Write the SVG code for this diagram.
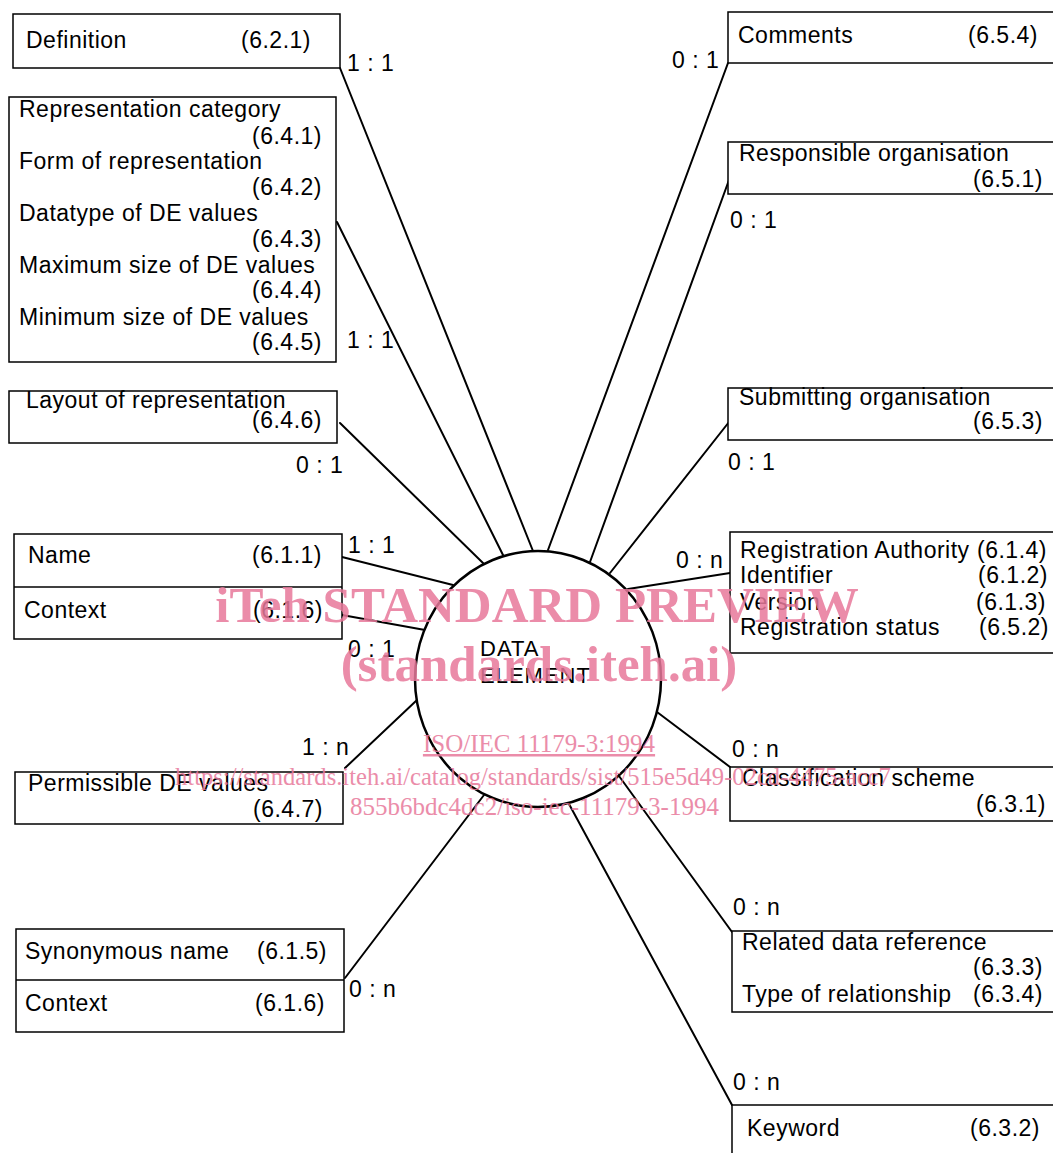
<svg xmlns="http://www.w3.org/2000/svg" width="1053" height="1153" viewBox="0 0 1053 1153">
<style>
.box{fill:#fff;stroke:#000;stroke-width:1.5}
.div{stroke:#000;stroke-width:1.5}
.t{font-family:"Liberation Sans",Arial,sans-serif;font-size:23px;fill:#000;letter-spacing:0.5px}
.r{text-anchor:end}
.de{font-size:22px;letter-spacing:1px}
.c{stroke:#000;stroke-width:2;fill:none;stroke-linecap:round}
.wm{font-family:"Liberation Serif","Times New Roman",serif;fill:#e8799b;opacity:0.85}
.wb{font-weight:bold;font-size:51px;text-anchor:middle}
.ws{font-size:25px}
</style>
<rect width="1053" height="1153" fill="#fff"/>
<g id="connectors">
<line class="c" x1="340" y1="68" x2="533" y2="551"/>
<line class="c" x1="337" y1="222" x2="503" y2="555"/>
<line class="c" x1="340" y1="423" x2="483" y2="563"/>
<line class="c" x1="728" y1="63" x2="548" y2="550"/>
<line class="c" x1="729" y1="180" x2="590" y2="562"/>
<line class="c" x1="729" y1="422" x2="610" y2="573"/>
<line class="c" x1="730" y1="573" x2="628" y2="589"/>
<line class="c" x1="342" y1="557" x2="453" y2="585"/>
<line class="c" x1="342" y1="615" x2="425" y2="630"/>
<line class="c" x1="345" y1="768" x2="417" y2="700"/>
<line class="c" x1="345" y1="978" x2="484" y2="795"/>
<line class="c" x1="730" y1="767" x2="657" y2="712"/>
<line class="c" x1="732" y1="932" x2="619" y2="776"/>
<line class="c" x1="732" y1="1105" x2="569" y2="804"/>
</g>
<g id="data-element">
<ellipse cx="538" cy="679" rx="123" ry="128" fill="#fff" stroke="#000" stroke-width="2.5"/>
<text class="t de" x="480" y="656">DATA</text>
<text class="t de" x="480" y="683">ELEMENT</text>
</g>
<g id="definition">
<rect class="box" x="13" y="14" width="327" height="54"/>
<text class="t" x="26" y="48">Definition</text>
<text class="t r" x="311" y="48">(6.2.1)</text>
</g>
<g id="representation">
<rect class="box" x="9" y="97" width="327" height="265"/>
<text class="t" x="19" y="117">Representation category</text>
<text class="t r" x="322" y="144">(6.4.1)</text>
<text class="t" x="19" y="169">Form of representation</text>
<text class="t r" x="322" y="195">(6.4.2)</text>
<text class="t" x="19" y="221">Datatype of DE values</text>
<text class="t r" x="322" y="247">(6.4.3)</text>
<text class="t" x="19" y="273">Maximum size of DE values</text>
<text class="t r" x="322" y="298">(6.4.4)</text>
<text class="t" x="19" y="325">Minimum size of DE values</text>
<text class="t r" x="322" y="350">(6.4.5)</text>
</g>
<g id="layout">
<rect class="box" x="9" y="391" width="328" height="52"/>
<text class="t" x="26" y="408">Layout of representation</text>
<text class="t r" x="322" y="428">(6.4.6)</text>
</g>
<g id="name-context">
<rect class="box" x="14" y="534" width="328" height="105"/>
<line class="div" x1="14" y1="587" x2="342" y2="587"/>
<text class="t" x="28" y="563">Name</text>
<text class="t r" x="322" y="563">(6.1.1)</text>
<text class="t" x="24" y="618">Context</text>
<text class="t r" x="323" y="618">(6.1.6)</text>
</g>
<g id="permissible">
<rect class="box" x="15" y="772" width="328" height="52"/>
<text class="t" x="28" y="791">Permissible DE values</text>
<text class="t r" x="323" y="817">(6.4.7)</text>
</g>
<g id="synonymous">
<rect class="box" x="16" y="929" width="328" height="103"/>
<line class="div" x1="16" y1="980" x2="344" y2="980"/>
<text class="t" x="25" y="959">Synonymous name</text>
<text class="t r" x="327" y="959">(6.1.5)</text>
<text class="t" x="25" y="1011">Context</text>
<text class="t r" x="325" y="1011">(6.1.6)</text>
</g>
<g id="comments">
<rect class="box" x="728" y="12" width="340" height="51"/>
<text class="t" x="738" y="43">Comments</text>
<text class="t r" x="1038" y="43">(6.5.4)</text>
</g>
<g id="responsible">
<rect class="box" x="728" y="142" width="340" height="52"/>
<text class="t" x="739" y="161">Responsible organisation</text>
<text class="t r" x="1043" y="187">(6.5.1)</text>
</g>
<g id="submitting">
<rect class="box" x="728" y="388" width="340" height="52"/>
<text class="t" x="739" y="405">Submitting organisation</text>
<text class="t r" x="1043" y="429">(6.5.3)</text>
</g>
<g id="registration">
<rect class="box" x="730" y="532" width="340" height="121"/>
<text class="t" x="740" y="558">Registration Authority</text>
<text class="t r" x="1047" y="558">(6.1.4)</text>
<text class="t" x="740" y="583">Identifier</text>
<text class="t r" x="1048" y="583">(6.1.2)</text>
<text class="t" x="740" y="610">Version</text>
<text class="t r" x="1046" y="610">(6.1.3)</text>
<text class="t" x="740" y="635">Registration status</text>
<text class="t r" x="1049" y="635">(6.5.2)</text>
</g>
<g id="classification">
<rect class="box" x="730" y="767" width="340" height="54"/>
<text class="t" x="742" y="786">Classification scheme</text>
<text class="t r" x="1046" y="812">(6.3.1)</text>
</g>
<g id="related">
<rect class="box" x="732" y="931" width="340" height="81"/>
<text class="t" x="742" y="950">Related data reference</text>
<text class="t r" x="1043" y="975">(6.3.3)</text>
<text class="t" x="742" y="1002">Type of relationship</text>
<text class="t r" x="1043" y="1002">(6.3.4)</text>
</g>
<g id="keyword">
<rect class="box" x="732" y="1105" width="340" height="60"/>
<text class="t" x="747" y="1136">Keyword</text>
<text class="t r" x="1040" y="1136">(6.3.2)</text>
</g>
<g id="cardinalities">
<text class="t" x="347" y="71">1 : 1</text>
<text class="t" x="672" y="68">0 : 1</text>
<text class="t" x="730" y="228">0 : 1</text>
<text class="t" x="347" y="348">1 : 1</text>
<text class="t" x="296" y="473">0 : 1</text>
<text class="t" x="728" y="470">0 : 1</text>
<text class="t" x="348" y="553">1 : 1</text>
<text class="t" x="676" y="568">0 : n</text>
<text class="t" x="348" y="657">0 : 1</text>
<text class="t" x="302" y="755">1 : n</text>
<text class="t" x="732" y="757">0 : n</text>
<text class="t" x="733" y="915">0 : n</text>
<text class="t" x="349" y="997">0 : n</text>
<text class="t" x="733" y="1090">0 : n</text>
</g>
<g id="watermark" class="wm">
<text class="wb" x="537" y="622">iTeh STANDARD PREVIEW</text>
<text class="wb" x="539" y="681">(standards.iteh.ai)</text>
<text class="ws" x="539" y="752" text-anchor="middle" text-decoration="underline">ISO/IEC 11179-3:1994</text>
<text x="175" y="785" style="font-size:24.6px">https://standards.iteh.ai/catalog/standards/sist/515e5d49-02cd-4475-acc7</text>
<text class="ws" x="350" y="815">855b6bdc4dc2/iso-iec-11179-3-1994</text>
</g>
</svg>
